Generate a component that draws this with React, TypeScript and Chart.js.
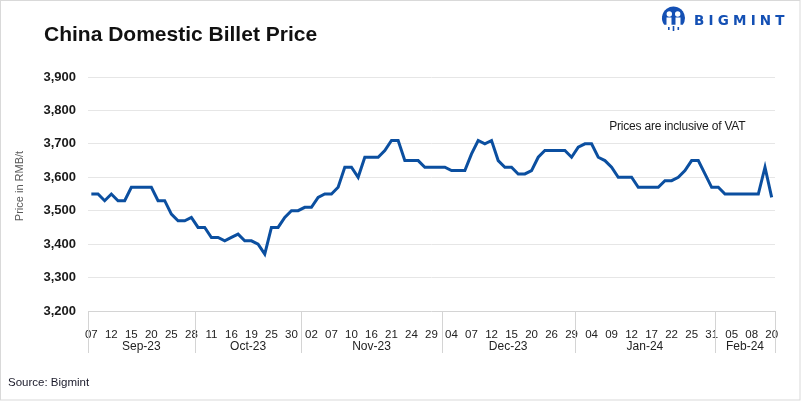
import React, { useEffect, useRef } from "react";
import { Chart, registerables } from "chart.js";

Chart.register(...registerables);

const dayLabels: string[] = [
  // Sep-23
  "07", "08", "11", "12", "13", "14", "15", "18", "19", "20", "21", "22", "25", "26", "27", "28",
  // Oct-23
  "09", "10", "11", "12", "13", "16", "17", "18", "19", "20", "23", "25", "26", "27", "30", "31",
  // Nov-23
  "01", "02", "03", "06", "07", "08", "09", "10", "13", "14", "16", "17", "20", "21", "22", "23", "24", "27", "28", "29", "30",
  // Dec-23
  "01", "04", "05", "06", "07", "08", "11", "12", "13", "14", "15", "18", "19", "20", "22", "25", "26", "27", "28", "29",
  // Jan-24
  "02", "03", "04", "05", "08", "09", "10", "11", "12", "15", "16", "17", "18", "19", "22", "23", "24", "25", "26", "30", "31",
  // Feb-24
  "01", "02", "05", "06", "07", "08", "09", "19", "20",
];

const monthNames: string[] = ["Sep-23", "Oct-23", "Nov-23", "Dec-23", "Jan-24", "Feb-24"];
const monthCounts: number[] = [16, 16, 21, 20, 21, 9];

const prices: number[] = [
  // Sep-23
  3550, 3550, 3530, 3550, 3530, 3530, 3570, 3570, 3570, 3570, 3530, 3530, 3490, 3470, 3470, 3480,
  // Oct-23
  3450, 3450, 3420, 3420, 3410, 3420, 3430, 3410, 3410, 3400, 3370, 3450, 3450, 3480, 3500, 3500,
  // Nov-23
  3510, 3510, 3540, 3550, 3550, 3570, 3630, 3630, 3600, 3660, 3660, 3660, 3680, 3710, 3710, 3650, 3650, 3650, 3630, 3630, 3630,
  // Dec-23
  3630, 3620, 3620, 3620, 3670, 3710, 3700, 3710, 3650, 3630, 3630, 3610, 3610, 3620, 3660, 3680, 3680, 3680, 3680, 3660,
  // Jan-24
  3690, 3700, 3700, 3660, 3650, 3630, 3600, 3600, 3600, 3570, 3570, 3570, 3570, 3590, 3590, 3600, 3620, 3650, 3650, 3610, 3570,
  // Feb-24
  3570, 3550, 3550, 3550, 3550, 3550, 3550, 3630, 3540,
];

const yTicks: number[] = [3200, 3300, 3400, 3500, 3600, 3700, 3800, 3900];

const titleText = "China Domestic Billet Price";
const yAxisTitle = "Price in RMB/t";
const noteText = "Prices are inclusive of VAT";
const sourceText = "Source: Bigmint";
const logoText = "BIGMINT";

const FONT = "'Liberation Sans', Arial, sans-serif";
const BLUE = "#0b4fa0";
const LOGO_BLUE = "#1450b4";

const decorPlugin = {
  id: "decor",
  afterDraw(chart: any) {
    const ctx: CanvasRenderingContext2D = chart.ctx;
    const xs = chart.scales.x;
    const ys = chart.scales.y;
    const area = chart.chartArea;
    ctx.save();

    // outer border
    ctx.strokeStyle = "#d9d9d9";
    ctx.lineWidth = 1;
    ctx.strokeRect(0.5, 0.5, chart.width - 1.5, chart.height - 1.5);

    // month group separators and labels
    const n = dayLabels.length;
    const step = n > 1 ? xs.getPixelForValue(1) - xs.getPixelForValue(0) : 0;
    const boundaryPx = (k: number) => {
      if (k <= 0) return xs.getPixelForValue(0) - step / 2;
      if (k >= n) return xs.getPixelForValue(n - 1) + step / 2;
      return (xs.getPixelForValue(k - 1) + xs.getPixelForValue(k)) / 2;
    };
    const sepBottom = area.bottom + 42;
    ctx.strokeStyle = "#d4d4d4";
    ctx.lineWidth = 1;
    let start = 0;
    const bounds: number[] = [0];
    monthCounts.forEach((c) => {
      start += c;
      bounds.push(start);
    });
    bounds.forEach((b) => {
      const px = Math.round(boundaryPx(b)) + 0.5;
      ctx.beginPath();
      ctx.moveTo(px, area.bottom);
      ctx.lineTo(px, sepBottom);
      ctx.stroke();
    });
    ctx.fillStyle = "#222";
    ctx.font = `12px ${FONT}`;
    ctx.textAlign = "center";
    ctx.textBaseline = "middle";
    monthNames.forEach((m, i) => {
      const a = boundaryPx(bounds[i]);
      const b = boundaryPx(bounds[i + 1]);
      ctx.fillText(m, (a + b) / 2, area.bottom + 36);
    });

    // title
    ctx.textAlign = "left";
    ctx.textBaseline = "alphabetic";
    ctx.fillStyle = "#111";
    ctx.font = `bold 21px ${FONT}`;
    ctx.fillText(titleText, 44, 41);

    // y axis title
    ctx.save();
    ctx.translate(20, 186);
    ctx.rotate(-Math.PI / 2);
    ctx.textAlign = "center";
    ctx.textBaseline = "middle";
    ctx.fillStyle = "#595959";
    ctx.font = `11px ${FONT}`;
    ctx.fillText(yAxisTitle, 0, 0);
    ctx.restore();

    // note
    ctx.textAlign = "center";
    ctx.textBaseline = "middle";
    ctx.fillStyle = "#1a1a1a";
    ctx.font = `12px ${FONT}`;
    (ctx as any).letterSpacing = "-0.2px";
    ctx.fillText(noteText, xs.getPixelForValue(88) - 1, ys.getPixelForValue(3750));
    (ctx as any).letterSpacing = "0px";

    // source
    ctx.textAlign = "left";
    ctx.fillStyle = "#1a1a2a";
    ctx.font = `11.5px ${FONT}`;
    ctx.fillText(sourceText, 8, 383);

    // logo icon
    const cx = 673.5;
    const cy = 19;
    ctx.fillStyle = LOGO_BLUE;
    ctx.beginPath();
    ctx.arc(cx, cy - 1, 11.5, Math.PI * 0.8, Math.PI * 2.2);
    ctx.closePath();
    ctx.fill();
    ctx.fillStyle = "#fff";
    ctx.beginPath();
    ctx.arc(cx - 4.2, cy - 5, 2.7, 0, Math.PI * 2);
    ctx.arc(cx + 4.2, cy - 5, 2.7, 0, Math.PI * 2);
    ctx.fill();
    ctx.fillRect(cx - 7, cy - 1.5, 5, 9.5);
    ctx.fillRect(cx + 2, cy - 1.5, 5, 9.5);
    ctx.fillStyle = LOGO_BLUE;
    ctx.fillRect(cx - 5.5, cy + 8, 1.6, 3);
    ctx.fillRect(cx - 0.8, cy + 7, 1.6, 5);
    ctx.fillRect(cx + 4, cy + 8, 1.6, 3);

    // logo text
    ctx.textAlign = "left";
    ctx.textBaseline = "middle";
    ctx.fillStyle = LOGO_BLUE;
    ctx.font = `bold 13.5px 'DejaVu Sans', ${FONT}`;
    (ctx as any).letterSpacing = "4.2px";
    ctx.fillText(logoText, 694, 21);
    (ctx as any).letterSpacing = "0px";

    ctx.restore();
  },
};

export default function App() {
  const canvasRef = useRef<HTMLCanvasElement | null>(null);

  useEffect(() => {
    document.body.style.margin = "0";
    const canvas = canvasRef.current;
    if (!canvas) return;
    const chart = new Chart(canvas, {
      type: "line",
      data: {
        labels: dayLabels,
        datasets: [
          {
            data: prices,
            borderColor: BLUE,
            backgroundColor: BLUE,
            borderWidth: 3,
            pointRadius: 0,
            tension: 0,
            borderJoinStyle: "miter",
            fill: false,
          },
        ],
      },
      options: {
        responsive: false,
        animation: false,
        devicePixelRatio: 1,
        layout: { padding: { top: 77, right: 26, bottom: 0, left: 0 } },
        plugins: {
          legend: { display: false },
          title: { display: false },
          tooltip: { enabled: false },
        },
        scales: {
          x: {
            type: "category",
            offset: true,
            grid: { display: false },
            border: { display: false },
            ticks: {
              autoSkip: false,
              maxRotation: 0,
              minRotation: 0,
              padding: 9,
              color: "#222",
              font: { size: 11.5, family: FONT },
              callback: (_v: any, i: number) => (i % 3 === 0 ? dayLabels[i] : ""),
            },
            afterFit: (s: any) => {
              s.height = 90;
            },
          },
          y: {
            min: yTicks[0],
            max: yTicks[yTicks.length - 1],
            afterBuildTicks: (s: any) => {
              s.ticks = yTicks.map((v) => ({ value: v }));
            },
            grid: {
              drawTicks: false,
              color: (c: any) => (c.tick && c.tick.value === yTicks[0] ? "#d4d4d4" : "#e6e6e6"),
            },
            border: { display: false },
            ticks: {
              padding: 12,
              color: "#1a1a1a",
              font: { size: 13, weight: "bold", family: FONT },
              callback: (v: any) => Number(v).toLocaleString("en-US"),
            },
            afterFit: (s: any) => {
              s.width = 88;
            },
          },
        },
      },
      plugins: [decorPlugin],
    });
    return () => chart.destroy();
  }, []);

  return (
    <div style={{ position: "fixed", left: 0, top: 0, width: 801, height: 401, background: "#fff" }}>
      <canvas ref={canvasRef} width={801} height={401} style={{ display: "block" }} />
    </div>
  );
}
